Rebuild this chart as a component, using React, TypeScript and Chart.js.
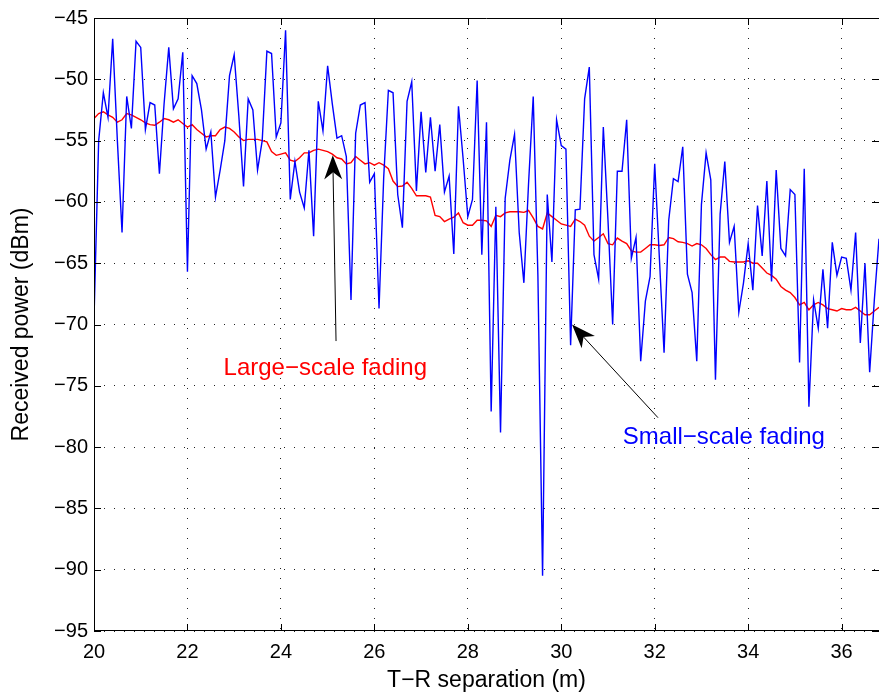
import React, { useEffect, useRef } from 'react';
import { Chart, registerables } from 'chart.js';
Chart.register(...registerables);

// sampling grid of the measurement (T-R separation, m)
const xStart = 20;
const xStep = 0.1;

// received power, small-scale fading (dBm)
const smallScale = [
  -69.5, -55, -51.1, -53.1, -46.7, -55, -62.5, -51.4, -54.0, -46.9,
  -47.4, -54.1, -51.9, -52.1, -57.7, -52, -47.4, -52.4, -51.6, -47.8,
  -65.7, -49.7, -50.35, -52.5, -55.7, -54.3, -59.6, -57.4, -55.0, -49.7,
  -48.0, -53, -58.75, -51.6, -52.5, -57.4, -55, -47.7, -47.9, -54.7,
  -53.55, -46.0, -59.8, -56.7, -59.2, -60.5, -55.8, -62.8, -51.8, -54.2,
  -48.9, -52, -54.8, -54.6, -56.3, -68.0, -54.4, -52.1, -51.9, -58.4,
  -57.7, -68.7, -58, -50.9, -51.1, -59.4, -62.1, -51.8, -50.2, -59.1,
  -52.65, -57.6, -53.1, -57.5, -53.7, -59.2, -57.9, -64.25, -52.2, -56.5,
  -61.2, -59.8, -50.1, -64.3, -53.5, -77.1, -60.4, -78.8, -59.7, -56.6,
  -54.5, -62.5, -66.6, -58.5, -51.4, -66, -90.5, -59.4, -64.9, -53.3,
  -55.4, -55.7, -71.7, -60.65, -60.6, -51.6, -49.0, -64.3, -66.3, -53.9,
  -61.5, -70.0, -57.5, -57.5, -53.3, -64.6, -62.9, -73.0, -68.1, -66.1,
  -56.9, -64.6, -72.3, -61.5, -58.1, -58.35, -55.5, -65.9, -67.4, -73.0,
  -60.2, -56.0, -58.2, -74.5, -61, -56.7, -63.3, -62.0, -69.0, -66.6,
  -63.4, -67.2, -60.3, -64.4, -58.3, -66.5, -57.4, -63.8, -64.4, -59.0,
  -59.4, -73.1, -57.3, -76.7, -68.0, -70.3, -65.5, -70.3, -63.3, -66.0,
  -64.5, -64.6, -67.2, -62.5, -71.5, -65.0, -73.9, -68, -63,
];

// received power, large-scale fading (dBm)
const largeScale = [
  -53.2, -52.8, -52.65, -52.9, -53.1, -53.5, -53.3, -52.8, -52.9, -53.1,
  -53.3, -53.55, -53.7, -53.75, -53.5, -53.2, -53.3, -53.5, -53.3, -53.6,
  -53.9, -53.7, -54.1, -54.4, -54.7, -54.6, -54.6, -54.1, -53.9, -54.0,
  -54.3, -54.7, -55.0, -54.9, -54.9, -54.9, -55.0, -55.1, -55.9, -56.2,
  -56.1, -56.0, -56.6, -56.7, -56.4, -56.0, -56.0, -55.8, -55.7, -55.8,
  -55.9, -56.1, -56.4, -56.5, -56.9, -56.8, -56.3, -56.6, -56.9, -56.8,
  -57.0, -56.8, -57.0, -57.3, -58.3, -58.75, -58.7, -58.4, -58.9, -59.5,
  -59.5, -59.5, -59.6, -61.1, -61.2, -61.6, -61.4, -61.25, -60.9, -61.7,
  -61.9, -61.9, -61.5, -61.5, -61.55, -62.0, -61.1, -61.2, -60.9, -60.8,
  -60.8, -60.8, -60.85, -60.7, -61.3, -62.0, -62.2, -60.9, -61.2, -61.5,
  -61.8, -61.9, -62.0, -61.4, -61.6, -61.9, -62.8, -63.2, -62.9, -62.6,
  -63.4, -63.5, -62.95, -63.2, -63.4, -64.0, -64.1, -64.1, -63.8, -63.5,
  -63.5, -63.55, -63.5, -62.9, -63.0, -63.25, -63.3, -63.4, -63.6, -63.4,
  -63.5, -63.8, -64.3, -64.7, -64.5, -64.5, -64.85, -64.9, -64.9, -64.9,
  -64.8, -65.0, -65.0, -65.4, -65.8, -66.0, -66.3, -66.9, -67.2, -67.4,
  -67.8, -68.4, -68.2, -68.8, -68.4, -68.2, -68.4, -68.7, -68.8, -68.9,
  -68.7, -68.8, -68.8, -68.6, -68.9, -69.2, -69.2, -68.9, -68.6,
];

const xTicks = [20, 22, 24, 26, 28, 30, 32, 34, 36];
const yTicks = [-95, -90, -85, -80, -75, -70, -65, -60, -55, -50, -45];
const xRange = [20, 36.8];
const yRange = [-95, -45];

const xTitle = 'T\u2212R separation (m)';
const yTitle = 'Received power (dBm)';

const labels = [
  { text: 'Large\u2212scale fading', x: 24.95, y: -73.6, color: '#ff0000' },
  { text: 'Small\u2212scale fading', x: 33.48, y: -79.2, color: '#0000ff' },
];
const arrows = [
  { fromX: 25.18, fromY: -71.35, toX: 25.11, toY: -56.2 },
  { fromX: 32.07, fromY: -77.6, toX: 30.23, toY: -70.0 },
];

const FONT = "'Liberation Sans', Arial, Helvetica, sans-serif";
const minus = (v: number) => String(v).replace('-', '\u2212');

export default function App() {
  const ref = useRef<HTMLCanvasElement>(null);
  useEffect(() => {
    const distances = smallScale.map((_, i) => Math.round((xStart + i * xStep) * 10) / 10);
    const frame = {
      id: 'frame',
      afterDatasetsDraw(chart: any) {
        const { ctx, chartArea: a, scales } = chart;
        const sx = scales.x, sy = scales.y;
        ctx.save();
        ctx.strokeStyle = '#000';
        ctx.lineWidth = 1;
        ctx.beginPath();
        ctx.moveTo(a.left + 0.5, a.top + 0.5);
        ctx.lineTo(a.right - 0.5, a.top + 0.5);
        ctx.moveTo(a.left + 0.5, a.top);
        ctx.lineTo(a.left + 0.5, a.bottom);
        ctx.moveTo(a.left, a.bottom - 0.5);
        ctx.lineTo(a.right, a.bottom - 0.5);
        ctx.stroke();
        const tl = 7;
        ctx.beginPath();
        xTicks.forEach((t) => {
          const p = Math.round(sx.getPixelForValue(t)) + 0.5;
          ctx.moveTo(p, a.bottom); ctx.lineTo(p, a.bottom - tl);
          ctx.moveTo(p, a.top); ctx.lineTo(p, a.top + tl);
        });
        yTicks.forEach((t) => {
          const p = Math.round(sy.getPixelForValue(t)) + 0.5;
          ctx.moveTo(a.left, p); ctx.lineTo(a.left + tl, p);
          ctx.moveTo(a.right, p); ctx.lineTo(a.right - tl, p);
        });
        ctx.stroke();

        // arrows
        arrows.forEach((ar) => {
          const x0 = sx.getPixelForValue(ar.fromX), y0 = sy.getPixelForValue(ar.fromY);
          const x1 = sx.getPixelForValue(ar.toX), y1 = sy.getPixelForValue(ar.toY);
          const ang = Math.atan2(y1 - y0, x1 - x0);
          const L = 24, W = 9, N = 7;
          ctx.beginPath();
          ctx.moveTo(x0, y0);
          ctx.lineTo(x1 - Math.cos(ang) * (L - N), y1 - Math.sin(ang) * (L - N));
          ctx.stroke();
          const bx = x1 - Math.cos(ang) * L, by = y1 - Math.sin(ang) * L;
          const nx = x1 - Math.cos(ang) * (L - N), ny = y1 - Math.sin(ang) * (L - N);
          const px = -Math.sin(ang), py = Math.cos(ang);
          ctx.fillStyle = '#000';
          ctx.beginPath();
          ctx.moveTo(x1, y1);
          ctx.lineTo(bx + px * W, by + py * W);
          ctx.lineTo(nx, ny);
          ctx.lineTo(bx - px * W, by - py * W);
          ctx.closePath();
          ctx.fill();
        });

        ctx.font = `24px ${FONT}`;
        ctx.textAlign = 'center';
        ctx.textBaseline = 'middle';
        labels.forEach((l) => {
          ctx.fillStyle = l.color;
          ctx.fillText(l.text, sx.getPixelForValue(l.x), sy.getPixelForValue(l.y));
        });
        ctx.restore();
      },
    };

    const chart = new Chart(ref.current as HTMLCanvasElement, {
      type: 'line',
      data: {
        datasets: [
          {
            label: 'Small-scale fading',
            data: distances.map((x, i) => ({ x, y: smallScale[i] })),
            borderColor: '#0000ff',
            borderWidth: 1.4,
            pointRadius: 0,
            tension: 0,
          },
          {
            label: 'Large-scale fading',
            data: distances.map((x, i) => ({ x, y: largeScale[i] })),
            borderColor: '#ff0000',
            borderWidth: 1.4,
            pointRadius: 0,
            tension: 0,
          },
        ],
      },
      options: {
        animation: false,
        responsive: true,
        maintainAspectRatio: false,
        layout: { padding: { top: 16, right: 0, left: 0, bottom: 0 } },
        plugins: { legend: { display: false }, tooltip: { enabled: false } },
        scales: {
          x: {
            type: 'linear',
            min: xRange[0],
            max: xRange[1],
            afterBuildTicks: (s: any) => { s.ticks = xTicks.map((v) => ({ value: v })); },
            afterFit: (s: any) => { s.height = 64; },
            ticks: {
              autoSkip: false,
              maxRotation: 0,
              padding: 9,
              color: '#000',
              font: { family: FONT, size: 20 },
              callback: (v: any) => minus(v),
            },
            grid: { color: '#222', lineWidth: 1, drawTicks: false },
            border: { display: false, dash: [1, 9] },
            title: {
              display: true,
              text: xTitle,
              color: '#000',
              font: { family: FONT, size: 23 },
              padding: { top: 0, bottom: 1 },
            },
          },
          y: {
            type: 'linear',
            min: yRange[0],
            max: yRange[1],
            afterBuildTicks: (s: any) => { s.ticks = yTicks.map((v) => ({ value: v })); },
            afterFit: (s: any) => { s.width = 94; },
            ticks: {
              autoSkip: false,
              padding: 6,
              color: '#000',
              font: { family: FONT, size: 20 },
              callback: (v: any) => minus(v),
            },
            grid: { color: '#222', lineWidth: 1, drawTicks: false },
            border: { display: false, dash: [1, 9] },
            title: {
              display: true,
              text: yTitle,
              color: '#000',
              font: { family: FONT, size: 23 },
              padding: { top: 8, bottom: 0 },
            },
          },
        },
      },
      plugins: [frame],
    });
    return () => chart.destroy();
  }, []);
  return (
    <div style={{ position: 'absolute', left: 0, top: 0, width: 879, height: 695 }}>
      <canvas ref={ref} />
    </div>
  );
}
